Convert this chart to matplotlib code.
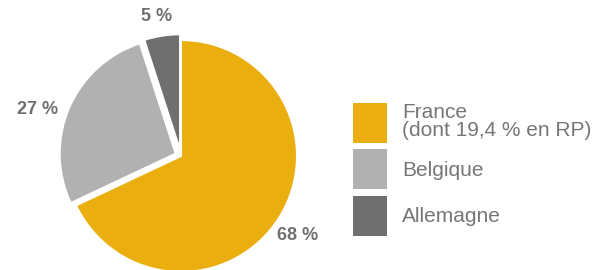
import numpy as np
import matplotlib
matplotlib.use('Agg')
import matplotlib.pyplot as plt
from matplotlib.patches import Patch

# data
labels = ["France\n(dont 19,4 % en RP)", "Belgique", "Allemagne"]
shares = [68, 27, 5]
colors = ["#EAAE0E", "#B2B1B1", "#6F6F6F"]
explode = [0, 0.05, 0.05]

plt.rcParams['font.family'] = ['Liberation Sans', 'DejaVu Sans']
text_grey = "#707070"

W, H = 604, 270
fig = plt.figure(figsize=(W / 100, H / 100), dpi=100)

# pie axes: centre ~ (181, 156) px from top, radius ~ 116 px
R = 116
L = 1.3
cx, cy = 181, H - 156
side = 2 * L * R
ax = fig.add_axes([(cx - side / 2) / W, (cy - side / 2) / H, side / W, side / H])

wedges, _, autotexts = ax.pie(
    shares, colors=colors, explode=explode, startangle=90, counterclock=False,
    autopct=lambda p: f"{p:.0f} %", pctdistance=1.23,
    wedgeprops=dict(edgecolor='white', linewidth=1.5),
)
# pie() resets the limits, so set them afterwards
ax.set_xlim(-L, L)
ax.set_ylim(-L, L)
ax.set_aspect('equal')
ax.axis('off')

# nudge the percentage labels to sit like the original ones
label_dist = [1.22, 1.25, 1.17]
label_dang = [-2, 5.5, 1]
for w, t, d, da in zip(wedges, autotexts, label_dist, label_dang):
    ang = np.deg2rad((w.theta1 + w.theta2) / 2 + da)
    t.set_position((w.center[0] + d * np.cos(ang), w.center[1] + d * np.sin(ang)))
    t.set_color(text_grey)
    t.set_fontsize(13)
    t.set_fontweight('bold')

handles = [Patch(facecolor=c, edgecolor='none') for c in colors]
leg = fig.legend(handles, labels, loc='upper left', bbox_to_anchor=(353 / W, 1 - 103 / H),
                 frameon=False, fontsize=15, labelcolor="#767676",
                 handlelength=1.63, handleheight=2.58, handletextpad=0.72,
                 labelspacing=0.3, borderpad=0, borderaxespad=0)
for t in leg.get_texts():
    t.set_linespacing(0.95)

fig.savefig("out.png", dpi=100)
